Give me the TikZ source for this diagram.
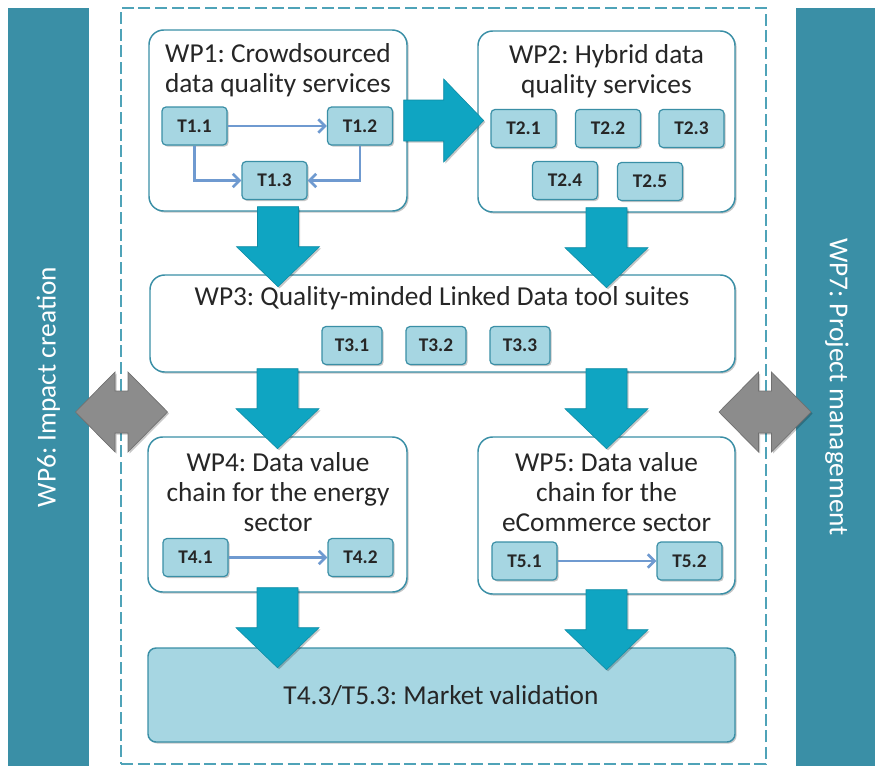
\documentclass[tikz,border=0pt]{standalone}
\usepackage{fontspec}
\setmainfont{Carlito}
\usetikzlibrary{arrows.meta,calc,fit,shadows}
\frenchspacing

\definecolor{barteal}{HTML}{3A8FA6}
\definecolor{edgeteal}{HTML}{3A8FA6}
\definecolor{dashteal}{HTML}{4FA3B8}
\definecolor{taskfill}{HTML}{A6D6E2}
\definecolor{arrowcyan}{HTML}{0FA5C2}
\definecolor{flowblue}{HTML}{6F9AD0}
\definecolor{lightgray}{HTML}{8C8C8C}
\definecolor{inktext}{HTML}{262626}

% one unit of the picture, used for node sizes
\newcommand\upx{0.75pt}

% thick block arrow starting at #1, pointing in direction #2 (degrees)
\newcommand\bigflow[2]{%
  \begin{scope}[shift={#1}, rotate=#2]
    \filldraw[bigarrow] (0,-20.5) -- (40,-20.5) -- (40,-41.5) -- (80,0)
      -- (40,41.5) -- (40,20.5) -- (0,20.5) -- cycle;
  \end{scope}}

% grey two-way link arrow centred at #1
\newcommand\linkboth[1]{%
  \begin{scope}[shift={#1}]
    \filldraw[linkarrow] (-46,0) -- (-6.5,-40) -- (-6.5,-21) -- (6.5,-21)
      -- (6.5,-40) -- (46,0) -- (6.5,40) -- (6.5,21) -- (-6.5,21)
      -- (-6.5,40) -- cycle;
  \end{scope}}

\begin{document}
\begin{tikzpicture}[x=0.75pt, y=-0.75pt,
  softshadow/.style={drop shadow={shadow xshift=1.2pt, shadow yshift=-1.2pt,
      opacity=0.22, fill=black}},
  wpbox/.style={draw=edgeteal, line width=1.1pt, fill=white,
      rounded corners=11pt, inner sep=0pt, softshadow},
  mvbox/.style={draw=edgeteal, line width=1.1pt, fill=taskfill,
      rounded corners=6pt, inner sep=0pt, softshadow},
  wptitle/.style={font=\fontsize{20.5}{22.5}\selectfont, text=inktext,
      align=center, inner sep=0pt},
  task/.style={draw=edgeteal, line width=0.9pt, fill=taskfill,
      rounded corners=3pt, font=\fontsize{14.5}{16}\selectfont\bfseries,
      text=inktext, minimum width=65*\upx, minimum height=38*\upx,
      inner sep=0pt, softshadow},
  flow/.style={draw=flowblue, line width=2pt,
      -{Straight Barb[length=5pt, width=10pt, line width=2pt]}},
  sidebar/.style={fill=barteal, text=white,
      font=\fontsize{20.5}{22.5}\selectfont, inner sep=0pt},
  bigarrow/.style={fill=arrowcyan, draw=arrowcyan!85!black,
      line width=0.4pt, softshadow},
  linkarrow/.style={fill=lightgray, draw=lightgray!80!black,
      line width=0.5pt, softshadow},
  frame/.style={draw=dashteal, line width=1.5pt,
      dash pattern=on 9pt off 3.5pt, inner sep=0pt}]

\useasboundingbox (0,0) rectangle (875,769);

% dashed frame round the core work packages
\node[frame, fit={(121,8) (766,764)}] (frame) {};

% side bars
\node[sidebar, rotate=90, minimum width=758*\upx, minimum height=81*\upx]
  (wp6) at (48.5,387) {WP6: Impact creation};
\node[sidebar, rotate=-90, minimum width=758*\upx, minimum height=82*\upx]
  (wp7) at (837,387) {WP7: Project management};

% work package boxes
\node[wpbox, fit={(149,30) (407,211)}] (wp1) {};
\node[wpbox, fit={(478,31) (735,212)}] (wp2) {};
\node[wpbox, fit={(150,275) (735,372)}] (wp3) {};
\node[wpbox, fit={(148,437) (407,592)}] (wp4) {};
\node[wpbox, fit={(478,437) (735,594)}] (wp5) {};
\node[mvbox, fit={(148,648) (735,742)}] (mv) {};

% titles
\node[wptitle] (wp1t) at (278,70) {WP1: Crowdsourced\\data quality services};
\node[wptitle] (wp2t) at (606.5,71) {WP2: Hybrid data\\quality services};
\node[wptitle] (wp3t) at (442,298) {WP3: Quality-minded Linked Data tool suites};
\node[wptitle] (wp4t) at (278,492) {WP4: Data value\\chain for the energy\\sector};
\node[wptitle] (wp5t) at (606.5,492) {WP5: Data value\\chain for the\\eCommerce sector};
\node[wptitle] (mvt) at (441,696) {T4.3/T5.3: Market validation};

% tasks
\node[task] (t11) at (194.5,126) {T1.1};
\node[task] (t12) at (360,126) {T1.2};
\node[task] (t13) at (274.5,180.5) {T1.3};

\node[task] (t21) at (523.5,128.5) {T2.1};
\node[task] (t22) at (608,128.5) {T2.2};
\node[task] (t23) at (691.5,128.5) {T2.3};
\node[task] (t24) at (565,180.5) {T2.4};
\node[task] (t25) at (650,181.5) {T2.5};

\node[task, minimum width=60*\upx] (t31) at (352,345.5) {T3.1};
\node[task, minimum width=60*\upx] (t32) at (436,345.5) {T3.2};
\node[task, minimum width=60*\upx] (t33) at (520,345.5) {T3.3};

\node[task] (t41) at (195.5,557.5) {T4.1};
\node[task] (t42) at (360.5,557.5) {T4.2};

\node[task] (t51) at (524.5,561) {T5.1};
\node[task] (t52) at (689.5,561) {T5.2};

% task dependencies
\draw[flow] (t11) -- (t12);
\draw[flow] (t11.south) |- (t13.west);
\draw[flow] (t12.south) |- (t13.east);
\draw[flow] (t41) -- (t42);
\draw[flow] (t51) -- (t52);

% flows between work packages
\bigflow{($(wp1.east)+(-4,0)$)}{0}
\bigflow{($(wp1.south)+(0,-5)$)}{-90}
\bigflow{($(wp2.south)+(0,-5)$)}{-90}
\bigflow{($(wp3.south -| wp4.north)+(0,-4)$)}{-90}
\bigflow{($(wp3.south -| wp5.north)+(0,-4)$)}{-90}
\bigflow{($(wp4.south)+(0,-5)$)}{-90}
\bigflow{($(wp5.south)+(0,-5)$)}{-90}

% links to the side work packages
\coordinate (link6) at (121.5,412);
\coordinate (link7) at (765,412);
\linkboth{(link6)}
\linkboth{(link7)}

\end{tikzpicture}
\end{document}
